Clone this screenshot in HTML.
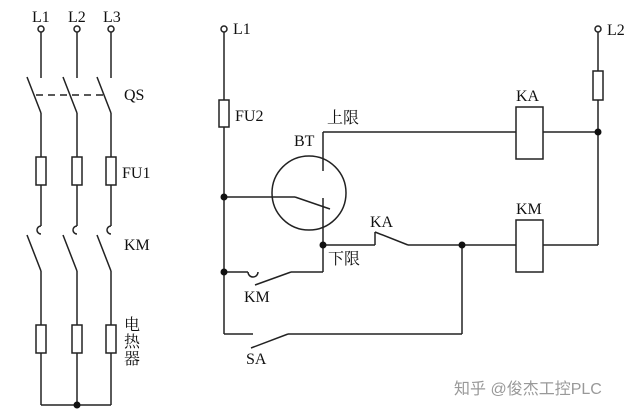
<!DOCTYPE html>
<html><head><meta charset="utf-8"><style>
html,body{margin:0;padding:0;background:#fff}
svg{display:block}
text{font-family:"Liberation Serif","Noto Serif CJK SC",serif;font-size:16px;fill:#111}
.c{font-family:"Liberation Sans","Noto Sans CJK SC",sans-serif}
</style></head><body>
<svg width="640" height="416" viewBox="0 0 640 416" xmlns="http://www.w3.org/2000/svg">
<g stroke="#222" stroke-width="1.5" fill="none">
<g id="ph">
<circle cx="41" cy="29" r="3"/>
<line x1="41" y1="32" x2="41" y2="78"/>
<line x1="27" y1="77" x2="41" y2="113"/>
<line x1="41" y1="113" x2="41" y2="157"/>
<rect x="36" y="157" width="10" height="28"/>
<line x1="41" y1="185" x2="41" y2="226"/>
<path d="M41 226 a4 4 0 0 0 0 8"/>
<line x1="27" y1="235" x2="41" y2="271"/>
<line x1="41" y1="271" x2="41" y2="325"/>
<rect x="36" y="325" width="10" height="28"/>
<line x1="41" y1="353" x2="41" y2="405"/>
</g>
<use href="#ph" x="36"/>
<use href="#ph" x="70"/>
<line x1="41" y1="405" x2="111" y2="405"/>
<line x1="36" y1="95" x2="107" y2="95" stroke-dasharray="7,5"/>
<circle cx="224" cy="29" r="3"/>
<line x1="224" y1="32" x2="224" y2="100"/>
<rect x="219" y="100" width="10" height="27"/>
<line x1="224" y1="127" x2="224" y2="334"/>
<line x1="224" y1="334" x2="253" y2="334"/>
<line x1="251" y1="348" x2="288" y2="334"/>
<line x1="288" y1="334" x2="462" y2="334"/>
<line x1="462" y1="334" x2="462" y2="245"/>
<circle cx="309" cy="193" r="37"/>
<line x1="224" y1="197" x2="295" y2="197"/>
<line x1="295" y1="197" x2="330" y2="209"/>
<line x1="323" y1="132" x2="323" y2="171"/>
<line x1="323" y1="198" x2="323" y2="272"/>
<line x1="323" y1="132" x2="516" y2="132"/>
<line x1="323" y1="245" x2="375" y2="245"/>
<line x1="375" y1="245" x2="375" y2="232"/>
<line x1="375" y1="232" x2="408" y2="245"/>
<line x1="408" y1="245" x2="516" y2="245"/>
<line x1="224" y1="272" x2="248" y2="272"/>
<path d="M248 272 a5 5 0 0 0 10 0"/>
<line x1="255" y1="285" x2="291" y2="272"/>
<line x1="291" y1="272" x2="323" y2="272"/>
<rect x="516" y="107" width="27" height="52"/>
<rect x="516" y="220" width="27" height="52"/>
<line x1="543" y1="132" x2="598" y2="132"/>
<line x1="543" y1="245" x2="598" y2="245"/>
<circle cx="598" cy="29" r="3"/>
<line x1="598" y1="32" x2="598" y2="71"/>
<rect x="593" y="71" width="10" height="29"/>
<line x1="598" y1="100" x2="598" y2="245"/>
</g>
<g fill="#111">
<circle cx="77" cy="405" r="3.5"/>
<circle cx="224" cy="197" r="3.5"/>
<circle cx="224" cy="272" r="3.5"/>
<circle cx="323" cy="245" r="3.5"/>
<circle cx="462" cy="245" r="3.5"/>
<circle cx="598" cy="132" r="3.5"/>
</g>
<text x="32" y="22">L1</text><text x="68" y="22">L2</text><text x="103" y="22">L3</text>
<text x="124" y="100">QS</text>
<text x="122" y="178">FU1</text>
<text x="124" y="250">KM</text>
<text x="124" y="330">电</text><text x="124" y="347">热</text><text x="124" y="364">器</text>
<text x="233" y="34">L1</text>
<text x="607" y="35">L2</text>
<text x="235" y="121">FU2</text>
<text x="294" y="146">BT</text>
<text x="327" y="123">上限</text>
<text x="328" y="264">下限</text>
<text x="370" y="227">KA</text>
<text x="244" y="302">KM</text>
<text x="246" y="364">SA</text>
<text x="516" y="101">KA</text>
<text x="516" y="214">KM</text>
<text x="454" y="394" class="c" style="fill:#999;font-size:16px">知乎 @俊杰工控PLC</text>
</svg>
</body></html>
